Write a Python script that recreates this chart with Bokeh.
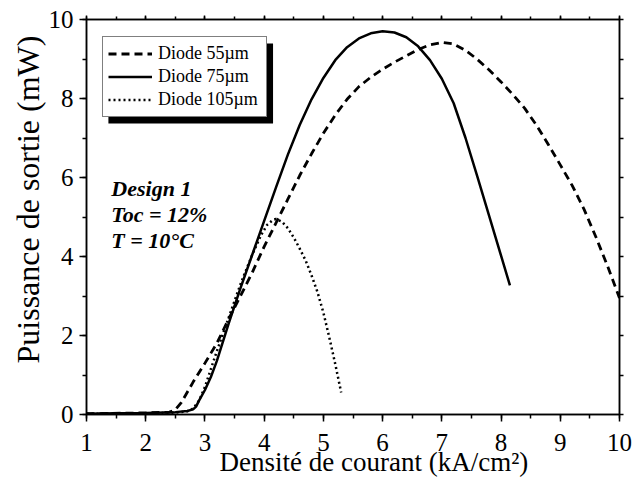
from bokeh.plotting import figure
from bokeh.models import (Range1d, LinearAxis, SingleIntervalTicker, Label,
                          BoxAnnotation, Legend, LegendItem, Title)
from bokeh.embed import file_html
from bokeh.resources import INLINE

# Diode 55 µm (dashed)
x55 = [1.0, 2.0, 2.4, 2.5, 2.6, 2.8, 3.0, 3.2, 3.4, 3.6, 3.8, 4.0, 4.2, 4.4, 4.6,
       4.8, 5.0, 5.2, 5.4, 5.6, 5.8, 6.0, 6.2, 6.4, 6.6, 6.8, 7.0, 7.2, 7.4, 7.6,
       7.8, 8.0, 8.2, 8.4, 8.6, 8.8, 9.0, 9.2, 9.4, 9.6, 9.8, 10.0]
p55 = [0.02, 0.04, 0.06, 0.12, 0.3, 0.82, 1.3, 1.8, 2.42, 3.0, 3.6, 4.25, 4.85,
       5.45, 6.05, 6.6, 7.12, 7.58, 7.98, 8.3, 8.54, 8.74, 8.92, 9.08, 9.24, 9.36,
       9.42, 9.38, 9.22, 8.99, 8.72, 8.42, 8.1, 7.75, 7.32, 6.83, 6.32, 5.8, 5.2,
       4.5, 3.75, 2.95]

# Diode 75 µm (solid)
x75 = [1.0, 1.5, 2.0, 2.5, 2.7, 2.8, 2.85, 2.9, 3.0, 3.1, 3.2, 3.4, 3.6, 3.8,
       4.0, 4.2, 4.4, 4.6, 4.8, 5.0, 5.2, 5.4, 5.6, 5.8, 6.0, 6.2, 6.4, 6.6,
       6.8, 7.0, 7.2, 7.4, 7.6, 7.8, 8.0, 8.15]
p75 = [0.02, 0.03, 0.04, 0.06, 0.09, 0.13, 0.2, 0.35, 0.62, 0.95, 1.35, 2.3,
       3.2, 4.05, 4.9, 5.75, 6.58, 7.33, 7.98, 8.52, 8.97, 9.3, 9.52, 9.65, 9.7,
       9.67, 9.55, 9.32, 8.97, 8.5, 7.88, 7.0, 6.02, 5.02, 4.02, 3.27]

# Diode 105 µm (dotted)
x105 = [1.0, 2.0, 2.5, 2.7, 2.8, 2.9, 3.0, 3.2, 3.4, 3.6, 3.8, 3.95, 4.05,
        4.15, 4.2, 4.3, 4.4, 4.5, 4.6, 4.7, 4.8, 4.9, 5.0, 5.1, 5.2, 5.3]
p105 = [0.02, 0.03, 0.05, 0.08, 0.15, 0.35, 0.7, 1.6, 2.45, 3.3, 4.05, 4.55,
        4.8, 4.93, 4.95, 4.88, 4.72, 4.48, 4.2, 3.9, 3.52, 3.1, 2.58, 1.95,
        1.28, 0.56]

series_labels = ["Diode 55µm", "Diode 75µm", "Diode 105µm"]
notes = ["Design 1", "Toc = 12%", "T = 10°C"]
note_y = [5.72, 5.07, 4.41]
x_title = "Densité de courant (kA/cm²)"
y_title = "Puissance de sortie (mW)"

FONT = "Liberation Serif"

p = figure(width=633, height=478, output_backend="svg", toolbar_location=None,
           x_range=Range1d(1, 10), y_range=Range1d(0, 10),
           min_border_left=86, min_border_right=14, min_border_top=19,
           min_border_bottom=64)
p.grid.visible = False
p.background_fill_color = "white"
p.border_fill_color = "white"
p.outline_line_color = "black"
p.outline_line_width = 1.5


def style_axis(ax, labels=True):
    ax.axis_line_color = "black"
    ax.axis_line_width = 1.5
    ax.major_tick_line_color = "black"
    ax.minor_tick_line_color = "black"
    ax.major_tick_line_width = 1.5
    ax.minor_tick_line_width = 1.5
    ax.major_tick_out = 7
    ax.major_tick_in = 0
    ax.minor_tick_out = 4
    ax.minor_tick_in = 0
    if labels:
        ax.major_label_text_font = FONT
        ax.major_label_text_font_size = "25px"
        ax.major_label_text_color = "black"
    else:
        ax.major_label_text_font_size = "0px"
        ax.major_label_standoff = 0


xb = p.below[0]
xb.ticker = SingleIntervalTicker(interval=1, num_minor_ticks=2)
style_axis(xb)
xb.major_label_standoff = 12

yl = p.left[0]
yl.ticker = SingleIntervalTicker(interval=2, num_minor_ticks=2)
style_axis(yl)
yl.major_label_standoff = 6

xt = LinearAxis(ticker=SingleIntervalTicker(interval=1, num_minor_ticks=2))
style_axis(xt, labels=False)
xt.major_tick_out = 4
xt.minor_tick_out = 3
p.add_layout(xt, "above")
yr = LinearAxis(ticker=SingleIntervalTicker(interval=1, num_minor_ticks=0))
style_axis(yr, labels=False)
yr.major_tick_out = 4
p.add_layout(yr, "right")

# axis titles as side titles
p.add_layout(Title(text=x_title, text_font=FONT, text_font_size="27px",
                   text_font_style="normal", text_color="black",
                   align="left", offset=133, standoff=-17), "below")
p.add_layout(Title(text=y_title, text_font=FONT, text_font_size="32px",
                   text_font_style="normal", text_color="black",
                   align="left", offset=51, standoff=0), "left")

# legend shadow
shadow = BoxAnnotation(left=1.37, right=4.15, top=9.39, bottom=7.37,
                       fill_color="black", fill_alpha=1.0, line_color=None)
p.add_layout(shadow)

r55 = p.line(x55, p55, line_color="black", line_width=2.8, line_dash="8 5")
r75 = p.line(x75, p75, line_color="black", line_width=2.5)
r105 = p.line(x105, p105, line_color="black", line_width=2.5, line_dash="2 3")

legend = Legend(items=[LegendItem(label=series_labels[0], renderers=[r55]),
                       LegendItem(label=series_labels[1], renderers=[r75]),
                       LegendItem(label=series_labels[2], renderers=[r105])],
                location=(16, 297), margin=0, padding=5, spacing=0,
                label_text_font=FONT, label_text_font_size="18px",
                label_text_color="black",
                label_height=23, glyph_height=23, glyph_width=44,
                label_width=103, label_standoff=6, border_line_color="black",
                border_line_width=1, background_fill_color="white",
                background_fill_alpha=1.0)
p.add_layout(legend)

for t, yy in zip(notes, note_y):
    p.add_layout(Label(x=1.42, y=yy, text=t, text_font=FONT,
                       text_font_style="bold italic", text_font_size="22px",
                       text_baseline="alphabetic", text_color="black"))

open("out.html", "w").write(file_html(p, INLINE))
